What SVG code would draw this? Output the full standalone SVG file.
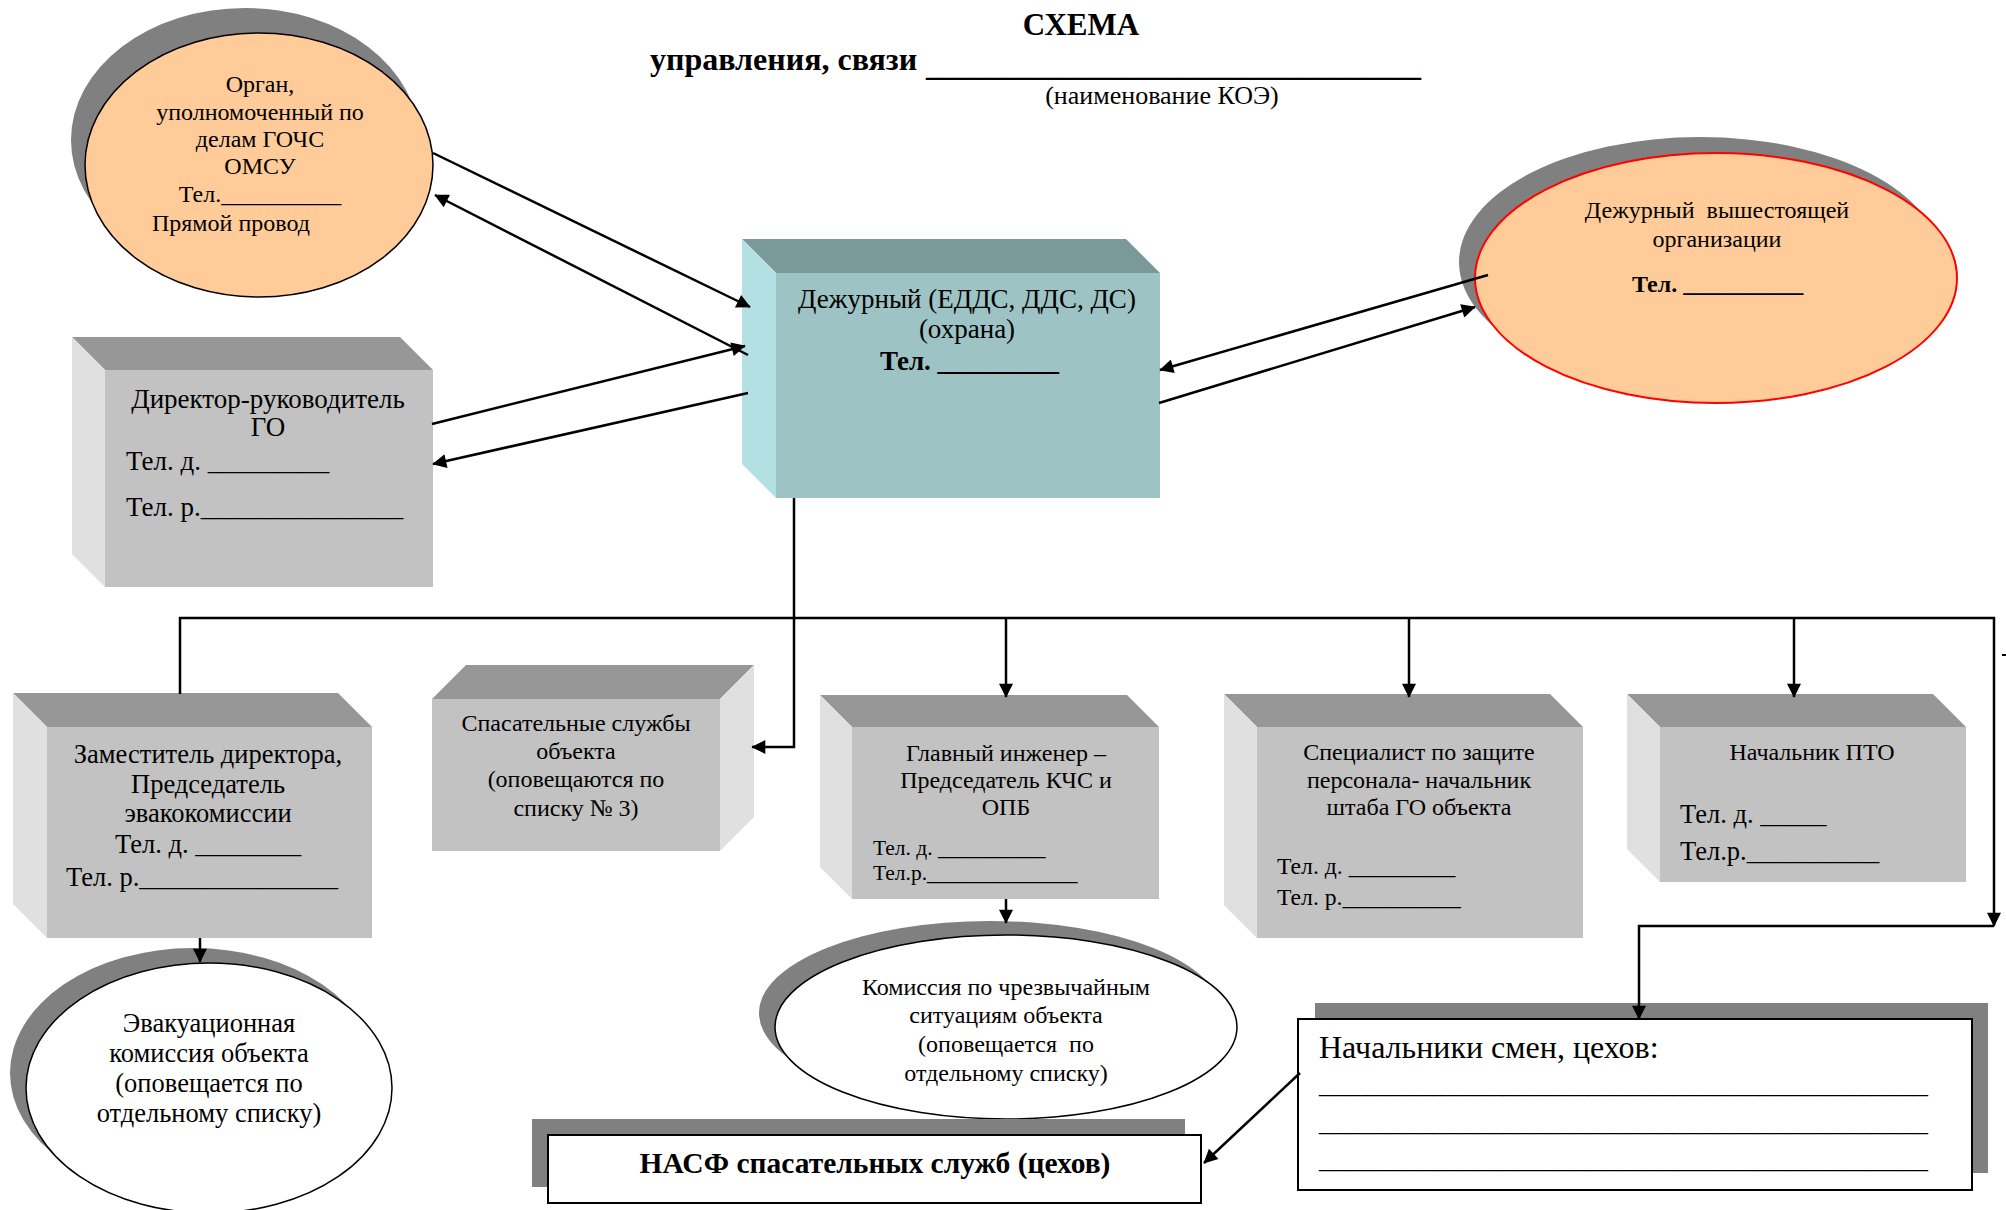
<svg xmlns="http://www.w3.org/2000/svg" width="2006" height="1210" viewBox="0 0 2006 1210">
<defs>
<marker id="ah" viewBox="0 0 10 10" refX="9.5" refY="5" markerWidth="19" markerHeight="14" markerUnits="userSpaceOnUse" orient="auto">
<path d="M0,0 L10,5 L0,10 z" fill="#000"/>
</marker>
</defs>
<style>
text{font-family:"Liberation Serif","Times New Roman",serif;fill:#000}
.b{font-weight:bold}
.c{text-anchor:middle}
.front{fill:#C2C2C2}
.top{fill:#979797}
.side{fill:#E0E0E0}
.tfront{fill:#9DC3C4}
.ttop{fill:#7A9999}
.tside{fill:#B3E1E3}
.shadow{fill:#808080}
.peach{fill:#FFCC99;stroke:#000;stroke-width:1.5}
.white{fill:#FFFFFF;stroke:#000;stroke-width:1.5}
.conn{fill:none;stroke:#000;stroke-width:2.5}
</style>
<rect width="2006" height="1210" fill="#FFFFFF"/>

<g id="title">
<text class="b c" x="1081" y="35" font-size="31">СХЕМА</text>
<text class="b" x="650" y="70" font-size="32">управления, связи</text>
<text class="b" x="926" y="76" font-size="31" textLength="495" lengthAdjust="spacingAndGlyphs">_________________________________</text>
<text class="c" x="1162" y="104" font-size="26">(наименование КОЭ)</text>
</g>

<g id="organ">
<ellipse class="shadow" cx="245" cy="140" rx="174" ry="132"/>
<ellipse class="peach" cx="259" cy="165" rx="174" ry="132"/>
<g font-size="24">
<text class="c" x="260" y="92">Орган,</text>
<text class="c" x="260" y="120">уполномоченный по</text>
<text class="c" x="260" y="147">делам ГОЧС</text>
<text class="c" x="260" y="174">ОМСУ</text>
<text class="c" x="260" y="202">Тел.__________</text>
<text x="152" y="231">Прямой провод</text>
</g>
</g>

<g id="dezhurny">
<polygon class="ttop" points="742,239 1126,239 1160,273 776,273"/>
<polygon class="tside" points="742,239 776,273 776,498 742,464"/>
<rect class="tfront" x="776" y="273" width="384" height="225"/>
<text class="c" x="967" y="308" font-size="27">Дежурный (ЕДДС, ДДС, ДС)</text>
<text class="c" x="967" y="338" font-size="27">(охрана)</text>
<text class="b" x="880" y="370" font-size="27">Тел. _________</text>
</g>

<g id="vyshestoyashchey">
<ellipse class="shadow" cx="1700" cy="262" rx="241" ry="125"/>
<ellipse cx="1716" cy="278" rx="241" ry="125" fill="#FFCC99" stroke="#FF0000" stroke-width="2"/>
<text class="c" x="1717" y="218" font-size="24" xml:space="preserve">Дежурный  вышестоящей</text>
<text class="c" x="1717" y="247" font-size="24">организации</text>
<text class="b" x="1632" y="292" font-size="24">Тел. __________</text>
</g>

<g id="direktor">
<polygon class="top" points="72,337 400,337 433,370 105,370"/>
<polygon class="side" points="72,337 105,370 105,587 72,554"/>
<rect class="front" x="105" y="370" width="328" height="217"/>
<g font-size="27">
<text class="c" x="268" y="408">Директор-руководитель</text>
<text class="c" x="268" y="436">ГО</text>
<text x="126" y="470">Тел. д. _________</text>
<text x="126" y="516">Тел. р._______________</text>
</g>
</g>

<g id="zamestitel">
<polygon class="top" points="13,693 338,693 372,727 47,727"/>
<polygon class="side" points="13,693 47,727 47,938 13,904"/>
<rect class="front" x="47" y="727" width="325" height="211"/>
<g font-size="26.5">
<text class="c" x="208" y="763">Заместитель директора,</text>
<text class="c" x="208" y="793">Председатель</text>
<text class="c" x="208" y="822">эвакокомиссии</text>
<text x="115" y="853">Тел. д. ________</text>
<text x="66" y="886">Тел. р._______________</text>
</g>
</g>

<g id="spasatelnye">
<polygon class="top" points="432,699 720,699 754,665 466,665"/>
<polygon class="side" points="720,699 754,665 754,817 720,851"/>
<rect class="front" x="432" y="699" width="288" height="152"/>
<g font-size="24">
<text class="c" x="576" y="731">Спасательные службы</text>
<text class="c" x="576" y="759">объекта</text>
<text class="c" x="576" y="787">(оповещаются по</text>
<text class="c" x="576" y="816">списку № 3)</text>
</g>
</g>

<g id="glavny">
<polygon class="top" points="820,695 1127,695 1159,727 852,727"/>
<polygon class="side" points="820,695 852,727 852,899 820,867"/>
<rect class="front" x="852" y="727" width="307" height="172"/>
<g font-size="24">
<text class="c" x="1006" y="761">Главный инженер –</text>
<text class="c" x="1006" y="788">Председатель КЧС и</text>
<text class="c" x="1006" y="815">ОПБ</text>
</g>
<g font-size="21.5">
<text x="873" y="855">Тел. д. __________</text>
<text x="873" y="880">Тел.р.______________</text>
</g>
</g>

<g id="specialist">
<polygon class="top" points="1224,694 1550,694 1583,727 1257,727"/>
<polygon class="side" points="1224,694 1257,727 1257,938 1224,905"/>
<rect class="front" x="1257" y="727" width="326" height="211"/>
<g font-size="24">
<text class="c" x="1419" y="760">Специалист по защите</text>
<text class="c" x="1419" y="788">персонала- начальник</text>
<text class="c" x="1419" y="815">штаба ГО объекта</text>
</g>
<g font-size="23.7">
<text x="1277" y="874">Тел. д. _________</text>
<text x="1277" y="905">Тел. р.__________</text>
</g>
</g>

<g id="pto">
<polygon class="top" points="1627,694 1933,694 1966,727 1660,727"/>
<polygon class="side" points="1627,694 1660,727 1660,882 1627,849"/>
<rect class="front" x="1660" y="727" width="306" height="155"/>
<text class="c" x="1812" y="760" font-size="24">Начальник ПТО</text>
<g font-size="26.5">
<text x="1680" y="823">Тел. д. _____</text>
<text x="1680" y="860">Тел.р.__________</text>
</g>
</g>

<g id="evakuacionnaya">
<ellipse class="shadow" cx="193" cy="1073" rx="183" ry="125"/>
<ellipse class="white" cx="209" cy="1088" rx="183" ry="125"/>
<g font-size="26.5">
<text class="c" x="209" y="1032">Эвакуационная</text>
<text class="c" x="209" y="1062">комиссия объекта</text>
<text class="c" x="209" y="1092">(оповещается по</text>
<text class="c" x="209" y="1122">отдельному списку)</text>
</g>
</g>

<g id="kchs">
<ellipse class="shadow" cx="990" cy="1013" rx="231" ry="92"/>
<ellipse class="white" cx="1006" cy="1027" rx="231" ry="92"/>
<g font-size="24">
<text class="c" x="1006" y="995">Комиссия по чрезвычайным</text>
<text class="c" x="1006" y="1023">ситуациям объекта</text>
<text class="c" x="1006" y="1052" xml:space="preserve">(оповещается  по</text>
<text class="c" x="1006" y="1081">отдельному списку)</text>
</g>
</g>

<g id="nasf">
<rect class="shadow" x="532" y="1119" width="653" height="68"/>
<rect x="548" y="1135" width="653" height="68" fill="#FFFFFF" stroke="#000" stroke-width="2"/>
<text class="b c" x="875" y="1173" font-size="29.5">НАСФ спасательных служб (цехов)</text>
</g>

<g id="nachalniki">
<rect class="shadow" x="1315" y="1003" width="673" height="170"/>
<rect x="1298" y="1019" width="674" height="171" fill="#FFFFFF" stroke="#000" stroke-width="2"/>
<text x="1319" y="1058" font-size="32">Начальники смен, цехов:</text>
<g font-size="28">
<text x="1319" y="1093" textLength="609" lengthAdjust="spacingAndGlyphs">___________________________________________</text>
<text x="1319" y="1131" textLength="609" lengthAdjust="spacingAndGlyphs">___________________________________________</text>
<text x="1319" y="1168" textLength="609" lengthAdjust="spacingAndGlyphs">___________________________________________</text>
</g>
</g>

<g id="connectors" class="conn">
<line x1="433" y1="153" x2="750" y2="307" marker-end="url(#ah)"/>
<line x1="748" y1="355" x2="435" y2="195" marker-end="url(#ah)"/>
<line x1="432" y1="424" x2="745" y2="346" marker-end="url(#ah)"/>
<line x1="748" y1="393" x2="433" y2="464" marker-end="url(#ah)"/>
<line x1="1488" y1="275" x2="1160" y2="370" marker-end="url(#ah)"/>
<line x1="1159" y1="403" x2="1475" y2="307" marker-end="url(#ah)"/>
<polyline points="794,498 794,747 752,747" marker-end="url(#ah)"/>
<polyline points="180,694 180,618 1994,618 1994,926" marker-end="url(#ah)"/>
<line x1="1006" y1="618" x2="1006" y2="697" marker-end="url(#ah)"/>
<line x1="1409" y1="618" x2="1409" y2="697" marker-end="url(#ah)"/>
<line x1="1794" y1="618" x2="1794" y2="697" marker-end="url(#ah)"/>
<polyline points="1994,926 1639,926 1639,1019" marker-end="url(#ah)"/>
<line x1="200" y1="938" x2="200" y2="962" marker-end="url(#ah)"/>
<line x1="1006" y1="899" x2="1006" y2="923" marker-end="url(#ah)"/>
<line x1="1300" y1="1073" x2="1204" y2="1163" marker-end="url(#ah)"/>
<line x1="2002" y1="655" x2="2006" y2="655" stroke-width="2"/>
</g>
</svg>
